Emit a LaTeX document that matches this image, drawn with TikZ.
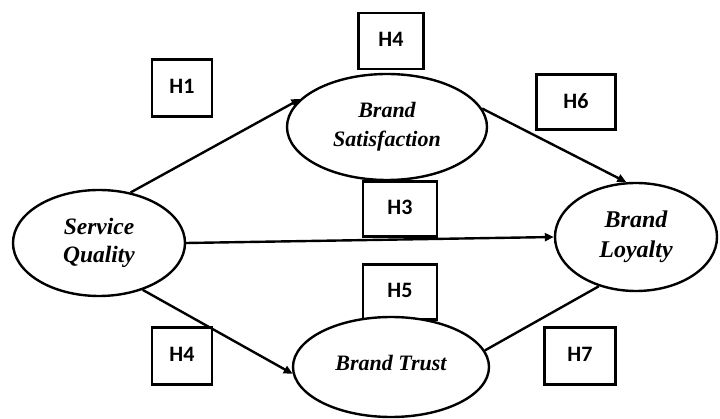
\documentclass[tikz,border=0pt]{standalone}
\usepackage{fontspec}
\setmainfont{Liberation Serif}
\newfontfamily\hfont{Carlito}
\usetikzlibrary{shapes.geometric,arrows.meta}
\begin{document}
\begin{tikzpicture}[x=1pt,y=-1pt,
  construct/.style={draw,ellipse,line width=2.4pt,fill=white,inner sep=0pt,align=center,
    font=\fontsize{22}{29}\selectfont\bfseries\itshape},
  hbox/.style={draw,rectangle,line width=2.6pt,fill=white,inner sep=0pt,
    font=\fontsize{22}{24}\selectfont\hfont\bfseries},
  link/.style={line width=2.4pt},
  arr/.style={link,-{Triangle[length=9pt,width=8pt]}}]
\useasboundingbox (0,0) rectangle (720,419);
% hypothesis boxes
\node[hbox,minimum width=60pt,minimum height=57pt] (h1) at (182,88) {\raisebox{3pt}{H1}};
\node[hbox,minimum width=65pt,minimum height=56pt] (h4a) at (391,41) {\raisebox{3pt}{H4}};
\node[hbox,minimum width=79pt,minimum height=55pt] (h6) at (576,102) {\raisebox{3pt}{H6}};
\node[hbox,minimum width=74pt,minimum height=55pt] (h3) at (400,209) {\raisebox{3pt}{H3}};
\node[hbox,minimum width=74pt,minimum height=55pt] (h5) at (400,292) {\raisebox{3pt}{H5}};
\node[hbox,minimum width=60pt,minimum height=57pt] (h4b) at (182,356) {\raisebox{3pt}{H4}};
\node[hbox,minimum width=71pt,minimum height=57pt] (h7) at (580,356) {\raisebox{3pt}{H7}};
% constructs
\node[construct,minimum width=172pt,minimum height=106pt,font=\fontsize{23.5}{28}\selectfont\bfseries\itshape] (sq) at (99,243) {Service\\Quality};
\node[construct,minimum width=200pt,minimum height=106pt] (bs) at (387,127) {Brand\\Satisfaction};
\node[construct,minimum width=162pt,minimum height=108pt,font=\fontsize{24}{30}\selectfont\bfseries\itshape] (bl) at (636,237) {Brand\\Loyalty};
\node[construct,minimum width=196pt,minimum height=100pt] (bt) at (391,367) {\raisebox{8pt}{Brand Trust}};
% paths
\draw[arr] (sq.58) -- (bs.162);
\draw[arr] (bs.11) -- (bl.100);
\draw[arr] (sq.east) -- (bl.west);
\draw[arr] (sq.-47) -- (bt.184);
\draw[link] (bt.10) -- (bl.-127);
\end{tikzpicture}
\end{document}
